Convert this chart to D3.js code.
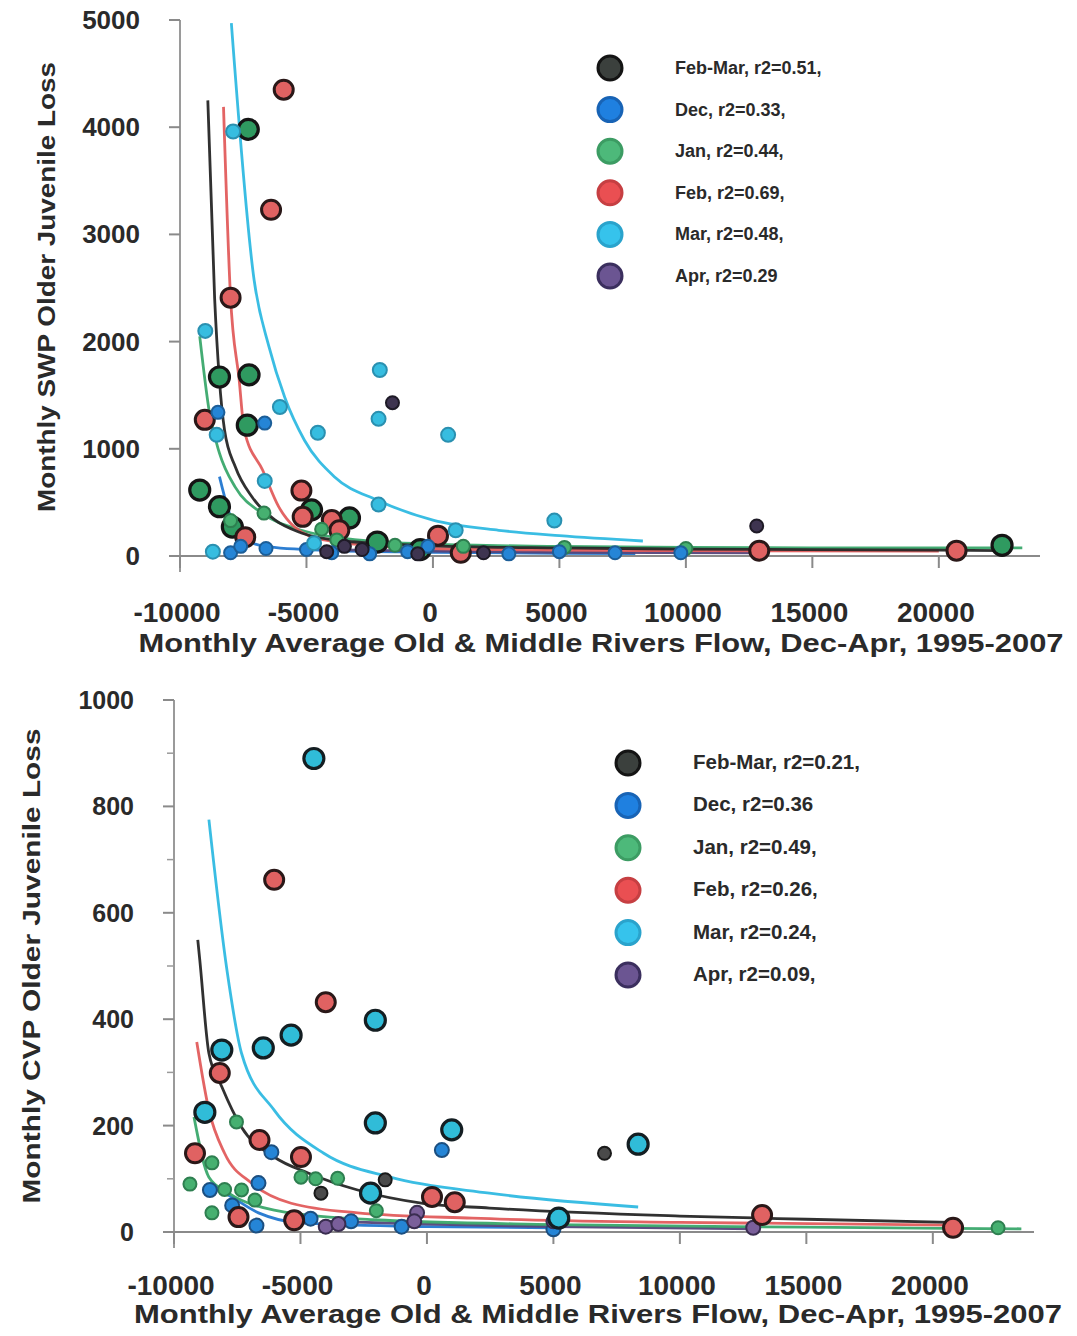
<!DOCTYPE html>
<html><head><meta charset="utf-8">
<script src="https://cdn.jsdelivr.net/npm/d3@7"></script>
<style>body{margin:0;background:#fff}text{font-family:"Liberation Sans",Arial,sans-serif;font-weight:bold;fill:#2a2a2a}</style>
</head><body>
<svg id="c" width="1077" height="1336"></svg>
<script>
// ---------- shared ----------
const seriesNames = ["Feb-Mar","Dec","Jan","Feb","Mar","Apr"];
const xTicks = [-10000,-5000,0,5000,10000,15000,20000];
const xTitle = "Monthly Average Old & Middle Rivers Flow, Dec-Apr, 1995-2007";

// ---------- top panel (SWP) ----------
const swpYTicks = [0,1000,2000,3000,4000,5000];
const swpLegend = ["Feb-Mar, r2=0.51,","Dec, r2=0.33,","Jan, r2=0.44,","Feb, r2=0.69,","Mar, r2=0.48,","Apr, r2=0.29"];
const swpFebMar = [[-7300,3980],[-8440,1670],[-7270,1690],[-7340,1220],[-9220,615],[-8440,460],[-7930,270],[-4800,430],[-3300,355],[-2200,130],[-500,60],[22500,100]];
const swpDec = [[-8500,1340],[-6650,1240],[-8000,30],[-6600,70],[-5000,60],[-4000,30],[-2500,20],[-1000,40],[-200,90],[3000,20],[5000,40],[7200,30],[9800,30],[-7600,90]];
const swpJan = [[-6680,400],[-8000,330],[-4400,250],[-3800,150],[-1500,100],[1200,90],[5200,80],[10000,70]];
const swpFeb = [[-5900,4350],[-6400,3230],[-8000,2410],[-9020,1270],[-7420,175],[-5200,610],[-5150,365],[-4000,335],[-3700,240],[200,190],[1100,30],[12900,50],[20700,50]];
const swpMar = [[-7900,3960],[-9000,2100],[-8550,1130],[-6050,1390],[-4550,1150],[-2100,1735],[-2150,1280],[600,1130],[-6650,700],[-2150,480],[4800,330],[900,240],[-4700,120],[-8700,40]];
const swpApr = [[-1600,1430],[12800,280],[-3500,90],[-2800,60],[-600,20],[2000,30],[-4200,40]];
// fitted curves
const swpFitFebMar = [[-8900,4250],[-8630,2400],[-8450,1670],[-8240,1175],[-7810,830],[-7150,550],[-6250,336],[-5200,215],[-3500,140],[0,95],[5000,75],[10000,65],[20000,55],[22500,50]];
const swpFitDec = [[-8440,740],[-8050,400],[-7420,150],[-6480,85],[-4000,50],[0,35],[5000,25],[8000,22]];
const swpFitJan = [[-9220,2050],[-8830,1330],[-8440,960],[-7810,640],[-6760,400],[-5200,240],[-3000,150],[0,110],[5000,90],[10000,80],[15000,75],[23300,75]];
const swpFitFeb = [[-8280,4190],[-8010,2450],[-7660,1640],[-7460,1175],[-6730,800],[-6100,460],[-5470,270],[-4300,150],[-2000,90],[0,70],[5000,55],[10000,50],[20000,45]];
const swpFitMar = [[-7970,4970],[-7070,2575],[-6480,1950],[-5860,1480],[-5080,1080],[-3900,740],[-2190,520],[0,335],[2600,240],[5000,190],[8300,140]];
const swpFitApr = [[-4500,60],[0,45],[5000,35],[13000,30]];

// ---------- bottom panel (CVP) ----------
const cvpYTicks = [0,200,400,600,800,1000];
const cvpYMinor = [100,300,500,700,900];
const cvpLegend = ["Feb-Mar, r2=0.21,","Dec, r2=0.36","Jan, r2=0.49,","Feb, r2=0.26,","Mar, r2=0.24,","Apr, r2=0.09,"];
const cvpFebMar = [[-4190,73],[-1650,98],[7020,148]];
const cvpDec = [[590,154],[-6150,150],[-8580,79],[-6660,92],[-6740,12],[-4600,25],[-7700,50],[5000,5],[-3000,20],[-1000,10]];
const cvpJan = [[-9370,90],[-8500,130],[-7530,207],[-8500,36],[-7330,79],[-4980,103],[-3530,101],[-4400,100],[-8000,80],[-2000,40],[22580,8],[-6800,60]];
const cvpFeb = [[-6040,662],[-4000,432],[-8190,299],[-6620,173],[-9170,148],[-4980,141],[-7450,28],[-5250,22],[200,66],[1100,56],[13250,32],[20800,8]];
const cvpMar = [[-4470,890],[-2040,398],[-5370,370],[-6470,346],[-8110,342],[-8780,225],[-2040,205],[980,192],[8350,165],[-2230,73],[5210,26]];
const cvpApr = [[-4000,10],[-390,36],[-3500,15],[-500,20],[12900,8],[5000,20]];
const cvpFitFebMar = [[-9060,549],[-8980,511],[-8620,336],[-8110,273],[-7330,197],[-6040,141],[-4700,111],[-2740,79],[-160,54],[2470,45],[10000,30],[15000,24],[20800,18]];
const cvpFitDec = [[-8620,85],[-8000,73],[-6660,36],[-5000,17],[0,10],[5000,8]];
const cvpFitJan = [[-9210,216],[-8620,103],[-7840,73],[-6040,41],[-2120,23],[5000,14],[15000,9],[23500,6]];
const cvpFitFeb = [[-9100,357],[-8620,229],[-8000,148],[-6940,92],[-5370,54],[-2740,36],[1800,26],[10000,18],[20800,13]];
const cvpFitMar = [[-8620,775],[-7900,490],[-7330,336],[-6040,229],[-4080,148],[-1450,103],[2470,73],[8350,47]];
const cvpFitApr = [[-4000,20],[0,15],[5000,10],[13000,6]];

// ---------- styles ----------
const lineColor = {"Feb-Mar":"#262626","Dec":"#2277d0","Jan":"#3aa86c","Feb":"#e25c5c","Mar":"#2fb9e2","Apr":"#54457a"};
const legendFill = {"Feb-Mar":"#3b403d","Dec":"#1f80e0","Jan":"#4db97a","Feb":"#ea4f52","Mar":"#36c3ec","Apr":"#6b5592"};
const legendStroke = {"Feb-Mar":"#141414","Dec":"#1863b5","Jan":"#3c9c63","Feb":"#c63f42","Mar":"#2aa3cc","Apr":"#3b2f5e"};

const svg = d3.select("#c");

function panel(cfg){
  const x = d3.scaleLinear().domain([-10000,24000]).range([cfg.x0, cfg.x0 + 860]);
  const y = d3.scaleLinear().domain([0,cfg.ymax]).range([cfg.y0, cfg.y1]);
  const g = svg.append("g");
  // axes lines
  g.append("line").attr("x1",x(-10000)).attr("x2",x(-10000)).attr("y1",y(cfg.ymax)).attr("y2",cfg.y0+16)
    .attr("stroke","#9a9a9a").attr("stroke-width",2);
  g.append("line").attr("x1",x(-10000)-8).attr("x2",x(24000)).attr("y1",y(0)).attr("y2",y(0))
    .attr("stroke","#8a8a8a").attr("stroke-width",2);
  // y ticks
  cfg.yTicks.forEach(v=>{
    g.append("line").attr("x1",x(-10000)-11).attr("x2",x(-10000)).attr("y1",y(v)).attr("y2",y(v)).attr("stroke","#8a8a8a").attr("stroke-width",2);
    g.append("text").attr("x",x(-10000)-40).attr("y",y(v)+9).attr("text-anchor","end").attr("font-size",cfg.yFont).text(v);
  });
  (cfg.yMinor||[]).forEach(v=>{
    g.append("line").attr("x1",x(-10000)-7).attr("x2",x(-10000)).attr("y1",y(v)).attr("y2",y(v)).attr("stroke","#9a9a9a").attr("stroke-width",1.5);
  });
  // x ticks
  xTicks.forEach(v=>{
    g.append("line").attr("x1",x(v)).attr("x2",x(v)).attr("y1",y(0)).attr("y2",y(0)+12).attr("stroke","#8a8a8a").attr("stroke-width",2);
    g.append("text").attr("x",x(v)-3).attr("y",cfg.xLabelY).attr("text-anchor","middle").attr("font-size",28).text(v);
  });
  // titles
  g.append("text").attr("x",cfg.xTitleX).attr("y",cfg.xTitleY).attr("text-anchor","middle").attr("font-size",26)
    .attr("textLength",cfg.xTitleLen).attr("lengthAdjust","spacingAndGlyphs").text(xTitle);
  g.append("text").attr("transform",`translate(${cfg.yTitleX},${cfg.yTitleY}) rotate(-90)`).attr("text-anchor","middle").attr("font-size",24)
    .attr("textLength",cfg.yTitleLen).attr("lengthAdjust","spacingAndGlyphs").text(cfg.yTitle);
  // fit curves
  const line = d3.line().x(d=>x(d[0])).y(d=>y(d[1])).curve(d3.curveMonotoneX);
  cfg.fits.forEach(f=>{
    g.append("path").attr("d",line(f.data)).attr("fill","none").attr("stroke",lineColor[f.name]).attr("stroke-width",2.8).attr("opacity",0.95);
  });
  // points
  cfg.points.forEach(s=>{
    g.append("g").selectAll("circle").data(s.data).join("circle")
      .attr("cx",d=>x(d[0])).attr("cy",d=>y(d[1])).attr("r",s.r)
      .attr("fill",s.fill).attr("stroke",s.stroke).attr("stroke-width",s.sw);
  });
  // legend
  seriesNames.forEach((n,i)=>{
    const ly = cfg.legY + i*cfg.legDy;
    g.append("circle").attr("cx",cfg.legX).attr("cy",ly).attr("r",12).attr("fill",legendFill[n]).attr("stroke",legendStroke[n]).attr("stroke-width",3);
    g.append("text").attr("x",cfg.legX+65).attr("y",ly+6).attr("font-size",cfg.legFont).attr("fill","#3a3a3a").text(cfg.legend[i]);
  });
}

panel({
  x0:180, y0:556, y1:20, ymax:5000, yTicks:swpYTicks, yFont:26, xLabelY:622,
  xTitleX:601, xTitleY:652, xTitleLen:925,
  yTitle:"Monthly SWP Older Juvenile Loss", yTitleX:55, yTitleY:287, yTitleLen:450,
  legX:610, legY:68, legDy:41.6, legFont:18, legend:swpLegend,
  fits:[{name:"Dec",data:swpFitDec},{name:"Apr",data:swpFitApr},{name:"Jan",data:swpFitJan},{name:"Mar",data:swpFitMar},{name:"Feb",data:swpFitFeb},{name:"Feb-Mar",data:swpFitFebMar}],
  points:[
    {data:swpFebMar,r:10,fill:"#2f9a60",stroke:"#151515",sw:3.2},
    {data:swpFeb,r:9.5,fill:"#e06262",stroke:"#2a1818",sw:3},
    {data:swpJan,r:6.5,fill:"#46b070",stroke:"#2e7f50",sw:2},
    {data:swpDec,r:6.5,fill:"#2585d6",stroke:"#1c5e98",sw:2},
    {data:swpMar,r:7,fill:"#36bde0",stroke:"#2a90b0",sw:2},
    {data:swpApr,r:6.5,fill:"#3e3450",stroke:"#1e1a26",sw:2}
  ]
});

panel({
  x0:174, y0:1232, y1:700, ymax:1000, yTicks:cvpYTicks, yMinor:cvpYMinor, yFont:25, xLabelY:1295,
  xTitleX:598, xTitleY:1323, xTitleLen:928,
  yTitle:"Monthly CVP Older Juvenile Loss", yTitleX:40, yTitleY:966, yTitleLen:475,
  legX:628, legY:763, legDy:42.4, legFont:20.5, legend:cvpLegend,
  fits:[{name:"Dec",data:cvpFitDec},{name:"Apr",data:cvpFitApr},{name:"Jan",data:cvpFitJan},{name:"Feb",data:cvpFitFeb},{name:"Mar",data:cvpFitMar},{name:"Feb-Mar",data:cvpFitFebMar}],
  points:[
    {data:cvpJan,r:6.5,fill:"#46b070",stroke:"#2e7f50",sw:2},
    {data:cvpDec,r:7,fill:"#2585d6",stroke:"#1c4f80",sw:2},
    {data:cvpApr,r:7,fill:"#7a5f9a",stroke:"#3a2d50",sw:2},
    {data:cvpFebMar,r:6.5,fill:"#4a4a4a",stroke:"#1a1a1a",sw:2},
    {data:cvpFeb,r:9.5,fill:"#e06262",stroke:"#2a1818",sw:3},
    {data:cvpMar,r:10,fill:"#30bcd8",stroke:"#141e22",sw:3.2}
  ]
});
</script>
</body></html>
